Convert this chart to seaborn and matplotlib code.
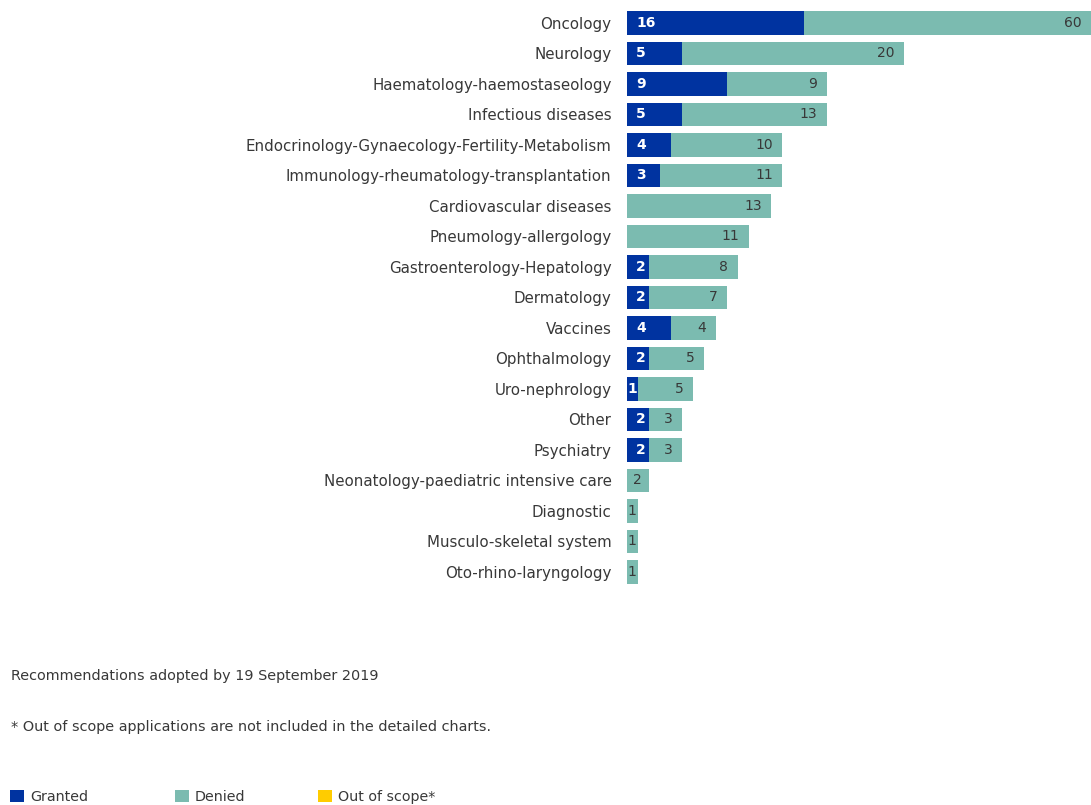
import matplotlib
matplotlib.use("Agg")
import matplotlib.pyplot as plt
import seaborn as sns
import pandas as pd
from matplotlib.patches import Patch

categories = [
    "Oncology", "Neurology", "Haematology-haemostaseology", "Infectious diseases",
    "Endocrinology-Gynaecology-Fertility-Metabolism", "Immunology-rheumatology-transplantation",
    "Cardiovascular diseases", "Pneumology-allergology", "Gastroenterology-Hepatology",
    "Dermatology", "Vaccines", "Ophthalmology", "Uro-nephrology", "Other", "Psychiatry",
    "Neonatology-paediatric intensive care", "Diagnostic", "Musculo-skeletal system",
    "Oto-rhino-laryngology",
]
granted = [16, 5, 9, 5, 4, 3, 0, 0, 2, 2, 4, 2, 1, 2, 2, 0, 0, 0, 0]
denied = [60, 20, 9, 13, 10, 11, 13, 11, 8, 7, 4, 5, 5, 3, 3, 2, 1, 1, 1]
legend_labels = ["Granted", "Denied", "Out of scope*"]
note_1 = "Recommendations adopted by 19 September 2019"
note_2 = "* Out of scope applications are not included in the detailed charts."

C_GRANTED = "#0033a0"
C_DENIED = "#7bbbb0"
C_OOS = "#ffcc00"
TXT = "#383838"

sns.set_theme(style="white")
plt.rcParams["font.family"] = ["DejaVu Sans"]

df = pd.DataFrame({"category": categories, "granted": granted, "denied": denied})
df["total"] = df["granted"] + df["denied"]

fig = plt.figure(figsize=(10.91, 8.05), dpi=100)
ax = fig.add_axes([0.5744, 0.2705, 1 - 0.5744, 0.9904 - 0.2705])

sns.barplot(data=df, y="category", x="total", color=C_DENIED, width=0.78,
            orient="h", ax=ax, saturation=1, linewidth=0)
sns.barplot(data=df, y="category", x="granted", color=C_GRANTED, width=0.78,
            orient="h", ax=ax, saturation=1, linewidth=0)

XMAX = 41.8
ax.set_xlim(0, XMAX)
ax.set_ylim(len(categories) - 0.5, -0.5)
ax.set_xlabel("")
ax.set_ylabel("")
ax.set_xticks([])
for s in ax.spines.values():
    s.set_visible(False)
ax.tick_params(axis="y", length=0, pad=11, labelsize=10.8, labelcolor=TXT)

pad = 0.85
for i, (g, d) in enumerate(zip(granted, denied)):
    if g > 0:
        if g >= 2:
            ax.text(pad, i, str(g), ha="left", va="center", color="white",
                    fontsize=10, fontweight="bold")
        else:
            ax.text(g / 2, i, str(g), ha="center", va="center", color="white",
                    fontsize=10, fontweight="bold")
    if d > 0:
        end = min(g + d, XMAX)
        if end - g >= 3:
            ax.text(end - pad, i, str(d), ha="right", va="center", color=TXT, fontsize=10)
        else:
            ax.text(g + d / 2, i, str(d), ha="center", va="center", color=TXT, fontsize=10)

fig.text(11 / 1091, 1 - 676 / 805, note_1, ha="left", va="center", fontsize=10.4, color=TXT)
fig.text(11 / 1091, 1 - 727 / 805, note_2, ha="left", va="center", fontsize=10.4, color=TXT)

for lab, col, x in zip(legend_labels, [C_GRANTED, C_DENIED, C_OOS], [10, 175, 318]):
    leg = fig.legend(handles=[Patch(facecolor=col, edgecolor="none")], labels=[lab],
                     loc="center left", bbox_to_anchor=(x / 1091, 1 - 797 / 805),
                     frameon=False, borderpad=0, borderaxespad=0, fontsize=10.3,
                     handlelength=0.95, handleheight=0.95, handletextpad=0.45,
                     labelcolor=TXT)

fig.savefig("out.png", dpi=100)
